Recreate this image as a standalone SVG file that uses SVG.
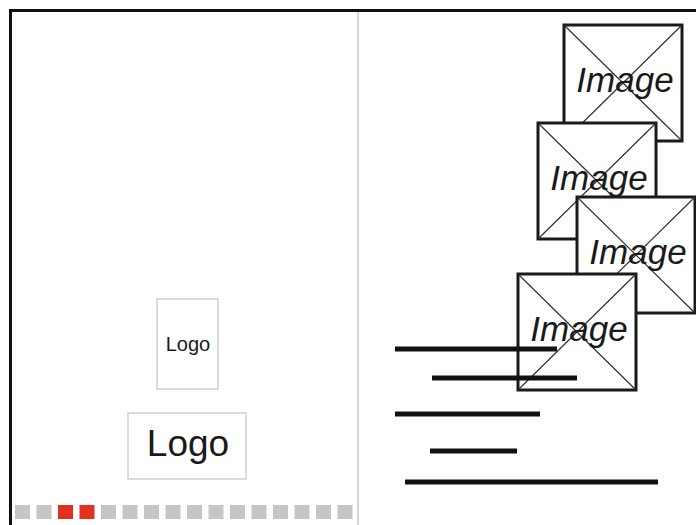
<svg xmlns="http://www.w3.org/2000/svg" width="696" height="525" viewBox="0 0 696 525">
  <style>
    .frame { fill: none; stroke: #111; stroke-width: 3; }
    .divider { stroke: #c8c8c8; stroke-width: 1.5; }
    .logo-box { fill: #fff; stroke: #c4c4c4; stroke-width: 1.2; }
    .logo-text { font-family: "Liberation Sans", Arial, sans-serif; fill: #1a1a1a; text-anchor: middle; }
    .img-box { fill: #fff; stroke: #1a1a1a; stroke-width: 3; }
    .img-x { stroke: #2a2a2a; stroke-width: 1.1; }
    .img-text { font-family: "Liberation Sans", Arial, sans-serif; font-style: italic; font-size: 35px; fill: #1a1a1a; text-anchor: middle; }
    .bar { stroke: #111; stroke-width: 5; }
    .dot { fill: #c6c6c6; }
    .dot.on { fill: #e0311f; }
  </style>
  <defs>
    <!-- placeholder image: white box crossed by both diagonals -->
    <g id="placeholder">
      <rect class="img-box" x="0" y="0" width="118" height="116"/>
      <line class="img-x" x1="0" y1="0" x2="118" y2="116"/>
      <line class="img-x" x1="118" y1="0" x2="0" y2="116"/>
      <text class="img-text" x="61" y="67">Image</text>
    </g>
  </defs>

  <rect width="696" height="525" fill="#fff"/>

  <!-- page frame and column divider -->
  <path class="frame" d="M10.5 525 V10.5 H700"/>
  <line class="divider" x1="358" y1="12" x2="358" y2="525"/>

  <!-- left column: logos -->
  <g id="logo-small">
    <rect class="logo-box" x="157" y="299" width="61" height="90"/>
    <text class="logo-text" x="188" y="351" font-size="20">Logo</text>
  </g>
  <g id="logo-large">
    <rect class="logo-box" x="128" y="413" width="118" height="66"/>
    <text class="logo-text" x="188" y="456" font-size="37">Logo</text>
  </g>

  <!-- page indicator -->
  <g id="pager">
    <rect class="dot" x="15" y="505" width="15" height="14"/>
    <rect class="dot" x="36.5" y="505" width="15" height="14"/>
    <rect class="dot on" x="58" y="505" width="15" height="14"/>
    <rect class="dot on" x="79.5" y="505" width="15" height="14"/>
    <rect class="dot" x="101" y="505" width="15" height="14"/>
    <rect class="dot" x="122.5" y="505" width="15" height="14"/>
    <rect class="dot" x="144" y="505" width="15" height="14"/>
    <rect class="dot" x="165.5" y="505" width="15" height="14"/>
    <rect class="dot" x="187" y="505" width="15" height="14"/>
    <rect class="dot" x="208.5" y="505" width="15" height="14"/>
    <rect class="dot" x="230" y="505" width="15" height="14"/>
    <rect class="dot" x="251.5" y="505" width="15" height="14"/>
    <rect class="dot" x="273" y="505" width="15" height="14"/>
    <rect class="dot" x="294.5" y="505" width="15" height="14"/>
    <rect class="dot" x="316" y="505" width="15" height="14"/>
    <rect class="dot" x="337.5" y="505" width="15" height="14"/>
  </g>

  <!-- right column: stacked images -->
  <g id="image-1"><use href="#placeholder" x="564" y="25"/></g>
  <g id="image-2"><use href="#placeholder" x="538" y="123"/></g>
  <g id="image-3"><use href="#placeholder" x="577" y="197"/></g>
  <g id="image-4"><use href="#placeholder" x="518" y="274"/></g>

  <!-- text bars -->
  <g id="text-lines">
    <line class="bar" x1="395" y1="349" x2="557" y2="349"/>
    <line class="bar" x1="432" y1="378" x2="577" y2="378"/>
    <line class="bar" x1="395" y1="414" x2="540" y2="414"/>
    <line class="bar" x1="430" y1="451" x2="517" y2="451"/>
    <line class="bar" x1="405" y1="482" x2="658" y2="482"/>
  </g>
</svg>
